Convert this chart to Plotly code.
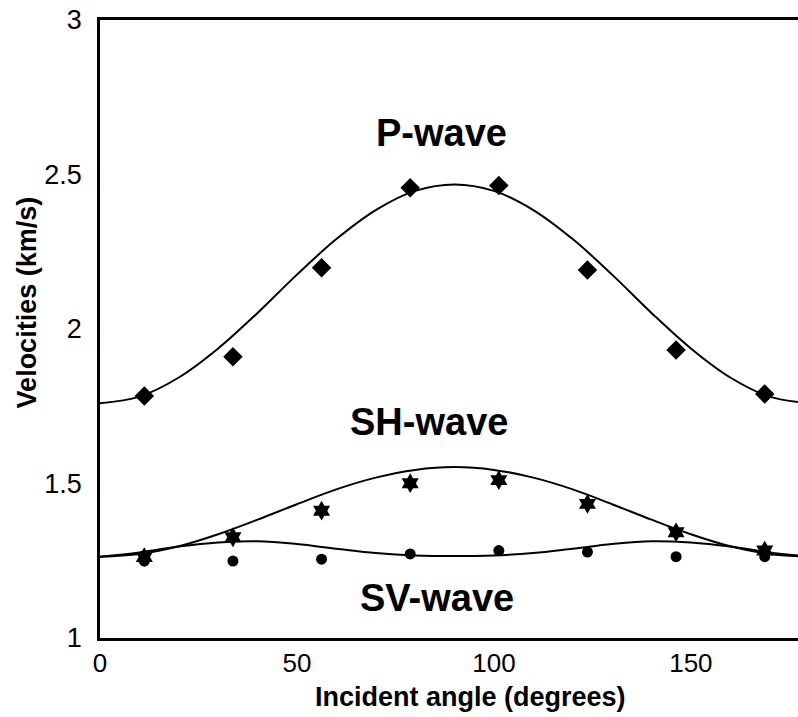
import plotly.graph_objects as go

# Measured points (incident angle, degrees)
angles = [11.25, 33.75, 56.25, 78.75, 101.25, 123.75, 146.25, 168.75]
p_obs = [1.783, 1.910, 2.198, 2.457, 2.464, 2.191, 1.932, 1.790]
sh_obs = [1.262, 1.326, 1.412, 1.501, 1.511, 1.434, 1.342, 1.283]
sv_obs = [1.249, 1.249, 1.255, 1.272, 1.283, 1.278, 1.263, 1.263]

# Fitted curves
curve_x = [0, 10, 20, 30, 40, 50, 60, 70, 80, 90,
           100, 110, 120, 130, 140, 150, 160, 170, 180]
p_fit = [1.760, 1.781, 1.843, 1.937, 2.052, 2.176, 2.291, 2.385, 2.447, 2.468,
         2.447, 2.385, 2.291, 2.176, 2.052, 1.937, 1.843, 1.781, 1.760]
sh_fit = [1.263, 1.272, 1.297, 1.336, 1.383, 1.433, 1.481, 1.519, 1.544, 1.553,
          1.544, 1.519, 1.481, 1.433, 1.383, 1.336, 1.297, 1.272, 1.263]
sv_fit = [1.263, 1.277, 1.296, 1.309, 1.313, 1.304, 1.289, 1.275, 1.267, 1.265,
          1.267, 1.275, 1.289, 1.304, 1.313, 1.309, 1.296, 1.277, 1.263]

x_ticks = [0, 50, 100, 150]
y_ticks = [1, 1.5, 2, 2.5, 3]
y_tick_text = ["1", "1.5", "2", "2.5", "3"]

FONT = "Liberation Sans, Arial, sans-serif"

fig = go.Figure()
for yfit in (p_fit, sh_fit, sv_fit):
    fig.add_trace(go.Scatter(x=curve_x, y=yfit, mode="lines",
                             line=dict(color="black", width=2, shape="spline"),
                             showlegend=False, hoverinfo="skip"))

fig.add_trace(go.Scatter(x=angles, y=p_obs, mode="markers",
                         marker=dict(symbol="diamond", size=15, color="black"),
                         showlegend=False))
fig.add_trace(go.Scatter(x=angles, y=sh_obs, mode="markers",
                         marker=dict(symbol="hexagram", size=15, color="black"),
                         showlegend=False))
fig.add_trace(go.Scatter(x=angles, y=sv_obs, mode="markers",
                         marker=dict(symbol="circle", size=11, color="black"),
                         showlegend=False))

labels = [("P-wave", 86.8, 2.635), ("SH-wave", 83.5, 1.70), ("SV-wave", 85.5, 1.13)]
for txt, lx, ly in labels:
    fig.add_annotation(x=lx, y=ly, text="<b>%s</b>" % txt, showarrow=False,
                       font=dict(family=FONT, size=38, color="black"),
                       xanchor="center", yanchor="middle")

fig.add_annotation(xref="paper", yref="paper", x=(470 - 100) / 698, y=-0.095,
                   text="<b>Incident angle (degrees)</b>", showarrow=False,
                   font=dict(family=FONT, size=27, color="black"),
                   xanchor="center", yanchor="middle")
fig.add_annotation(xref="paper", yref="paper", x=-0.104, y=(638 - 302) / 618,
                   text="<b>Velocities (km/s)</b>", showarrow=False, textangle=-90,
                   font=dict(family=FONT, size=27, color="black"),
                   xanchor="center", yanchor="middle")

fig.update_layout(
    width=798, height=717,
    margin=dict(l=100, r=0, t=20, b=79),
    paper_bgcolor="white", plot_bgcolor="white",
    font=dict(family=FONT, size=26, color="black"),
    xaxis=dict(range=[0, 177.2], tickvals=x_ticks, showgrid=False, zeroline=False,
               showline=True, linecolor="black", linewidth=2.5, mirror=True,
               ticks="", tickfont=dict(size=26)),
    yaxis=dict(range=[1, 3], tickvals=y_ticks, ticktext=y_tick_text, showgrid=False,
               zeroline=False, showline=True, linecolor="black", linewidth=2.5,
               ticks="", tickfont=dict(size=27), ticklabelstandoff=10),
)

fig.write_html("out.html")
